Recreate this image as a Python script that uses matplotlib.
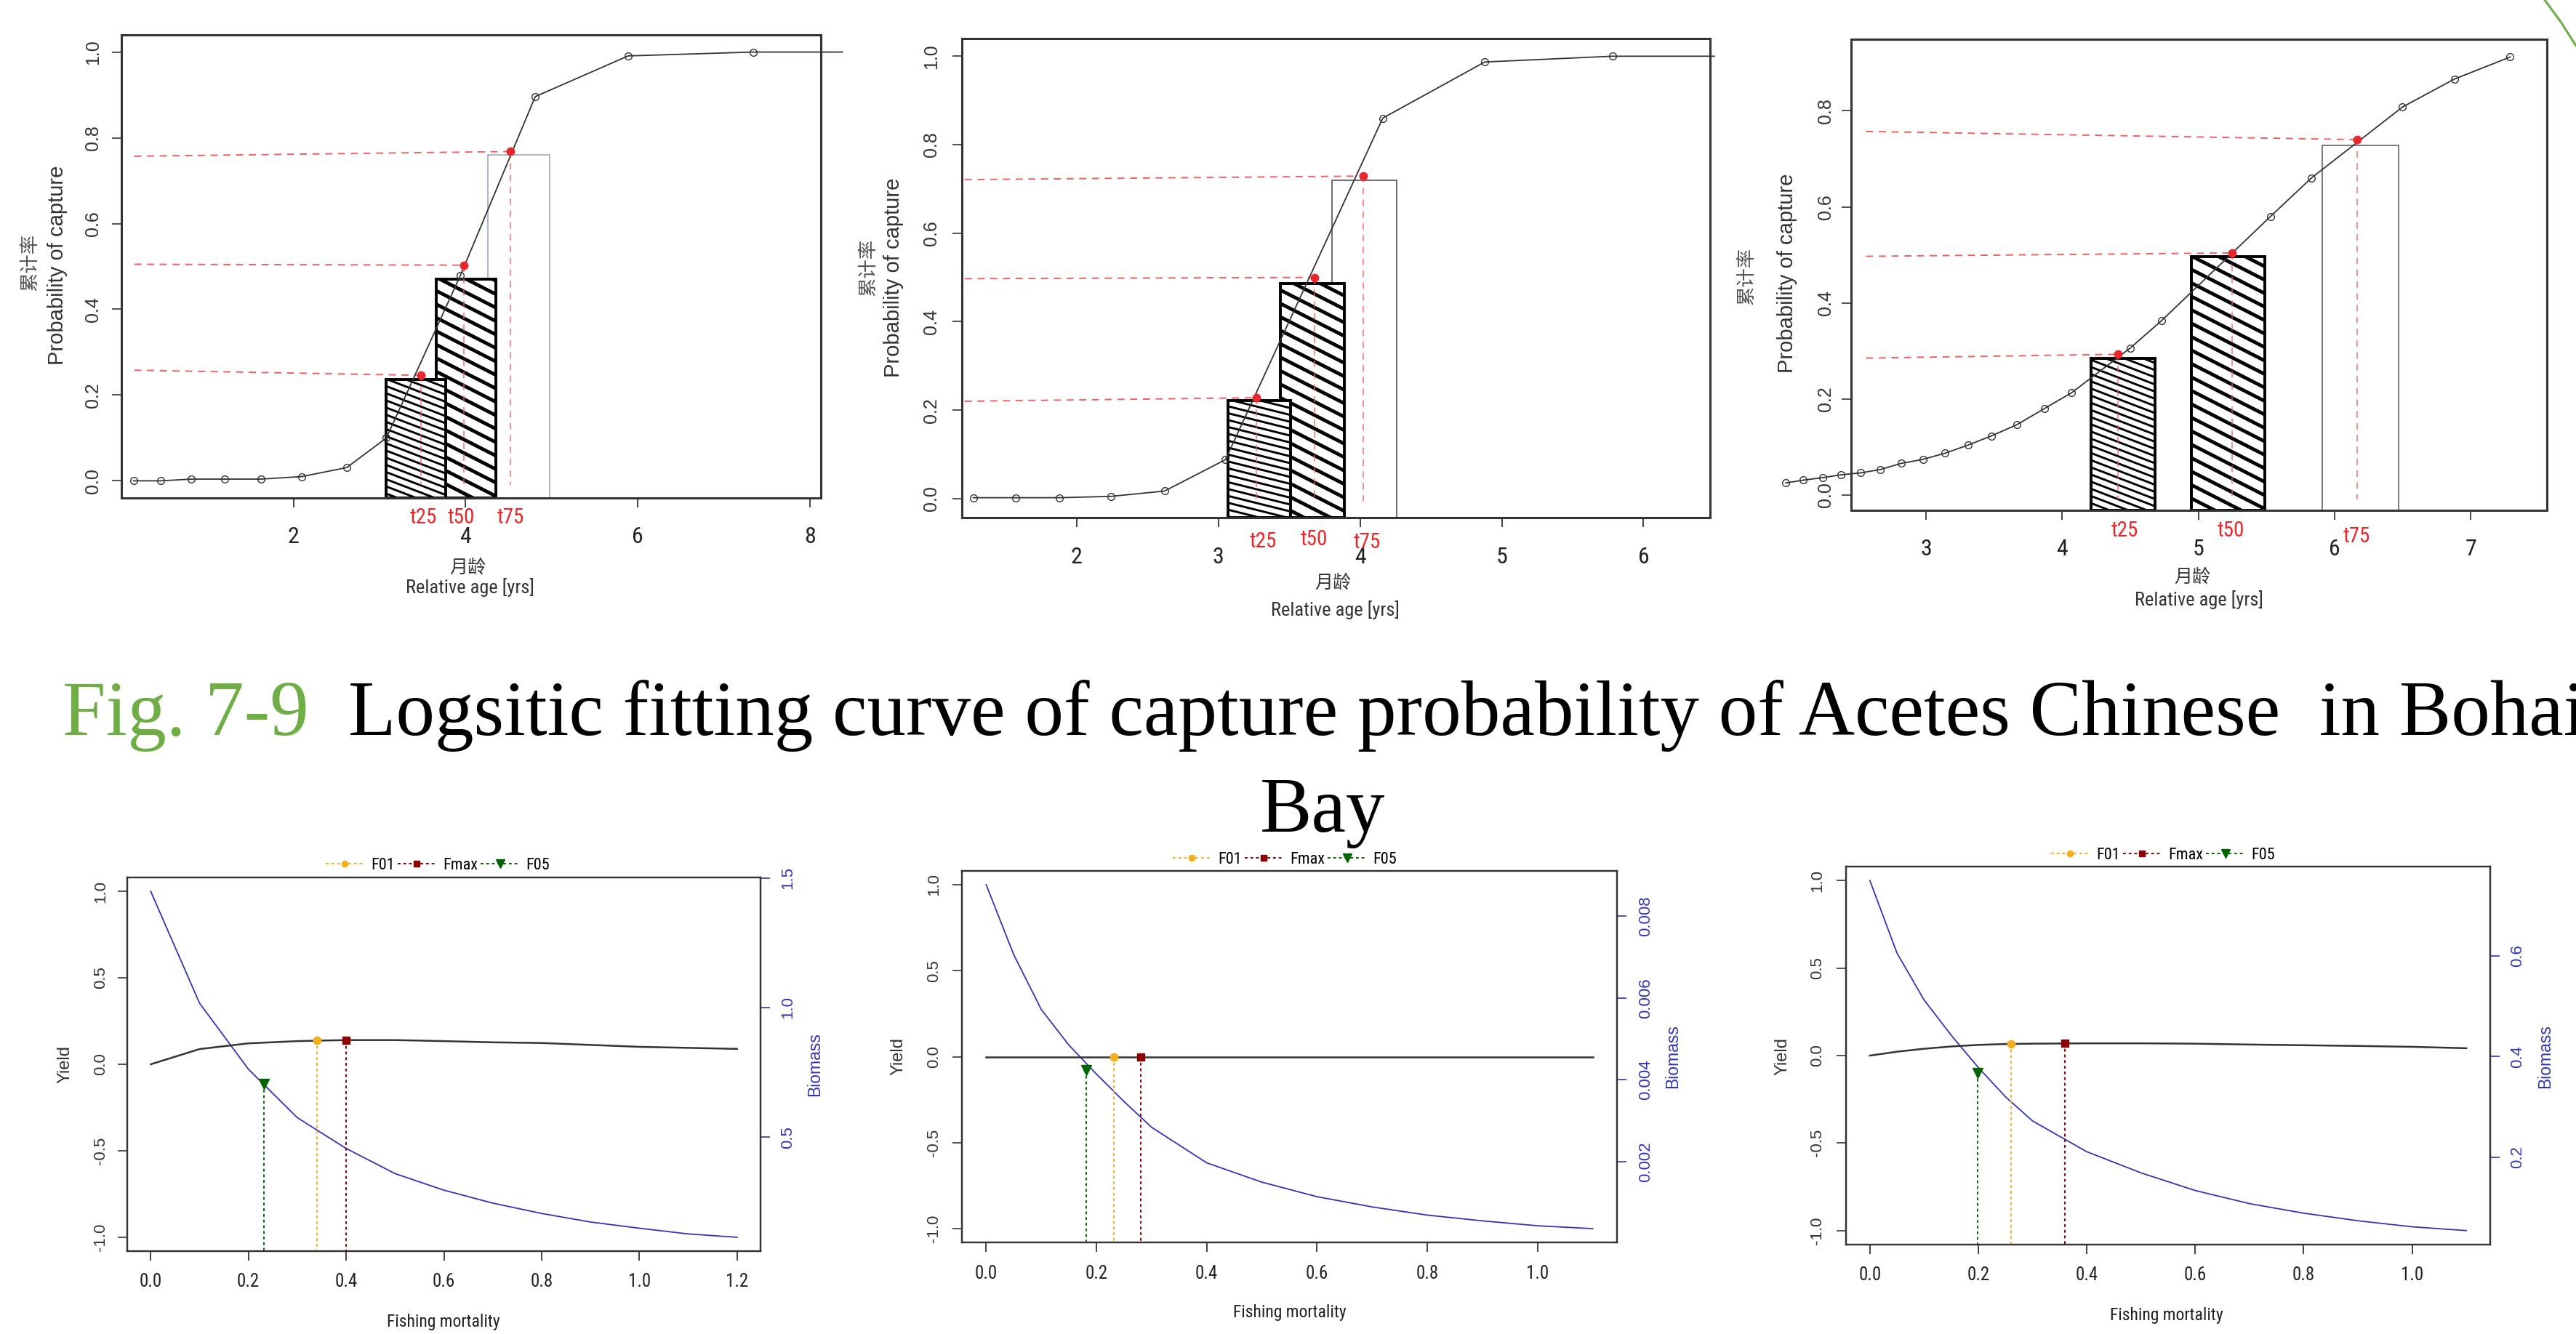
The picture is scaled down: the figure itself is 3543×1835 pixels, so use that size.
import numpy as np
import matplotlib
matplotlib.use("Agg")
import matplotlib.pyplot as plt
from matplotlib import font_manager as fm
from matplotlib.collections import LineCollection
from matplotlib.patches import Rectangle
from matplotlib.lines import Line2D
from matplotlib.transforms import IdentityTransform, Bbox

plt.rcParams['axes.unicode_minus'] = False

# ---------------- data: top row (cumulative capture probability) ----------------
age_a = [0.14, 0.46, 0.81, 1.20, 1.62, 2.10, 2.62, 3.08, 3.94, 4.81, 5.89, 7.34, 8.38]
prob_a = [0.0, 0.0, 0.004, 0.004, 0.004, 0.010, 0.031, 0.10, 0.479, 0.896, 0.991, 1.0, 1.0]
marked_a = 12                      # first 12 points carry open circles
red_t_a = [3.48, 3.98, 4.52]
red_p_a = [0.246, 0.503, 0.768]
ref_left_a = [0.258, 0.505, 0.757]
bar_l_a = [3.08, 3.66, 4.26]
bar_r_a = [3.77, 4.35, 4.98]
bar_h_a = [0.236, 0.470, 0.760]

age_b = [1.27, 1.57, 1.88, 2.24, 2.62, 3.05, 4.16, 4.88, 5.78, 6.50]
prob_b = [0.002, 0.002, 0.002, 0.005, 0.017, 0.088, 0.86, 0.987, 1.0, 1.0]
marked_b = 9
red_t_b = [3.27, 3.68, 4.02]
red_p_b = [0.228, 0.50, 0.729]
ref_left_b = [0.220, 0.497, 0.721]
bar_l_b = [3.07, 3.44, 3.80]
bar_r_b = [3.51, 3.89, 4.26]
bar_h_b = [0.221, 0.486, 0.720]

age_c = [1.97, 2.10, 2.24, 2.375, 2.52, 2.665, 2.82, 2.976, 3.14, 3.31, 3.48, 3.665,
         3.87, 4.07, 4.50, 4.73, 5.53, 5.83, 6.50, 6.88, 7.29]
prob_c = [0.025, 0.031, 0.036, 0.042, 0.046, 0.053, 0.066, 0.074, 0.087, 0.104, 0.123, 0.146,
          0.180, 0.213, 0.306, 0.363, 0.580, 0.660, 0.808, 0.866, 0.912]
marked_c = 21
red_t_c = [4.41, 5.246, 6.165]
red_p_c = [0.293, 0.504, 0.740]
ref_left_c = [0.285, 0.497, 0.757]
bar_l_c = [4.21, 4.95, 5.91]
bar_r_c = [4.68, 5.49, 6.47]
bar_h_c = [0.284, 0.497, 0.728]

t_labels = ["t25", "t50", "t75"]

# ---------------- data: bottom row (yield / biomass per recruit) ----------------
F_d = [0.0, 0.1, 0.2, 0.3, 0.4, 0.5, 0.6, 0.7, 0.8, 0.9, 1.0, 1.1, 1.2]
yield_d = [0.0, 0.088, 0.121, 0.134, 0.140, 0.140, 0.134, 0.127, 0.123, 0.112, 0.101, 0.095, 0.089]
bio_d = [1.449, 1.017, 0.762, 0.575, 0.456, 0.359, 0.295, 0.245, 0.205, 0.172, 0.148, 0.126, 0.113]
ref_f_d = [0.34, 0.40, 0.231]          # F01, Fmax, F05
ref_y_d = [0.140, 0.140, -0.112]

F_e = [0.0, 0.05, 0.1, 0.15, 0.2, 0.25, 0.3, 0.4, 0.5, 0.6, 0.7, 0.8, 0.9, 1.0, 1.1]
yield_e = [0.0, 0.0, 0.0, 0.0, 0.0, 0.0, 0.0, 0.0, 0.0, 0.0, 0.0, 0.0, 0.0, 0.0, 0.0]
bio_e = [0.008764, 0.007055, 0.005717, 0.00485, 0.004142, 0.003472, 0.002843, 0.001976,
         0.001504, 0.00115, 0.0009, 0.0007, 0.00056, 0.00044, 0.00037]
ref_f_e = [0.231, 0.28, 0.181]
ref_y_e = [0.0, 0.0, -0.077]

F_f = [0.0, 0.05, 0.1, 0.15, 0.2, 0.25, 0.3, 0.4, 0.5, 0.6, 0.7, 0.8, 0.9, 1.0, 1.1]
yield_f = [0.0, 0.022, 0.039, 0.052, 0.061, 0.066, 0.068, 0.070, 0.070, 0.068, 0.063, 0.059, 0.055, 0.050, 0.042]
bio_f = [0.749, 0.605, 0.512, 0.442, 0.378, 0.320, 0.272, 0.211, 0.169, 0.134, 0.108, 0.089, 0.074, 0.062, 0.0545]
ref_f_f = [0.26, 0.36, 0.199]
ref_y_f = [0.068, 0.070, -0.0996]

ref_names = ["F01", "Fmax", "F05"]

# ---------------- figure setup ----------------
W, H, DPI = 3543, 1835, 100
fig = plt.figure(figsize=(W / DPI, H / DPI), dpi=DPI)
fig.patch.set_facecolor('white')

avail = {f.name for f in fm.fontManager.ttflist}
def pick(*c):
    for n in c:
        if n in avail:
            return n
    return 'DejaVu Sans'
NARROW = pick('Liberation Sans Narrow', 'Arial Narrow', 'Roboto Condensed', 'Liberation Sans')
SANS = pick('Liberation Sans', 'Arial')
SERIF = pick('Liberation Serif', 'Times New Roman')
CJK = 'Noto Sans CJK SC'

BLUE = '#3434b4'
RED = '#e8262b'
REDL = '#ee6060'
GREENT = '#70AD47'
ORANGE = '#f2b01e'
DARKRED = '#8b0000'
DKGREEN = '#006400'
GRAY = '#333333'
ref_colors = [ORANGE, DARKRED, DKGREEN]
ref_markers = ['o', 's', 'v']


def add_ax(l, r, t, b):
    return fig.add_axes([l / W, 1 - b / H, (r - l) / W, (b - t) / H])


def ftext(x, y, s, ha='center', va='center', **kw):
    return fig.text(x / W, 1 - y / H, s, ha=ha, va=va, **kw)


def hatch(ax, patch, angle, spacing, lw, z):
    bb = patch.get_path().get_extents(patch.get_transform())
    clip = Bbox.intersection(bb, ax.bbox.frozen())
    a = np.deg2rad(angle)
    d = np.array([np.cos(a), -np.sin(a)])
    n = np.array([np.sin(a), np.cos(a)])
    corners = np.array([[bb.x0, bb.y0], [bb.x1, bb.y0], [bb.x0, bb.y1], [bb.x1, bb.y1]])
    proj = corners @ n
    along = corners @ d
    ks = np.arange(np.floor(proj.min() / spacing) - 1, np.ceil(proj.max() / spacing) + 2)
    t0, t1 = along.min() - 50, along.max() + 50
    segs = [[n * k * spacing + d * t0, n * k * spacing + d * t1] for k in ks]
    lc = LineCollection(segs, transform=IdentityTransform(), colors='black',
                        linewidths=lw, zorder=z)
    ax.add_collection(lc, autolim=False)
    lc.set_clip_path(None)
    lc.set_clip_box(clip)


def top_panel(box, xlim, ylim, xticks, yticks, age, prob, nmark, red_t, red_p, ref_left,
              ref_x0, bl, br, bh, bar3_ec, xpad, ypad, lab, ang1=21):
    ax = add_ax(*box)
    ax.set_xlim(xlim)
    ax.set_ylim(ylim)
    ybot = ylim[0]
    p3 = Rectangle((bl[2], ybot), br[2] - bl[2], bh[2] - ybot, fc='white', ec=bar3_ec, lw=1.1, zorder=2)
    ax.add_patch(p3)
    p2 = Rectangle((bl[1], ybot), br[1] - bl[1], bh[1] - ybot, fc='white', ec='black', lw=2.8, zorder=3)
    ax.add_patch(p2)
    hatch(ax, p2, 27, 16.5, 3.5, 3.05)
    p1 = Rectangle((bl[0], ybot), br[0] - bl[0], bh[0] - ybot, fc='white', ec='black', lw=2.8, zorder=4)
    ax.add_patch(p1)
    hatch(ax, p1, ang1, 9.2, 2.1, 4.05)
    for t, p, yl in zip(red_t, red_p, ref_left):
        ax.plot([ref_x0, t], [yl, p], color=REDL, lw=1.4, ls=(0, (5, 4)), zorder=5)
        ax.plot([t, t], [p, -0.01], color=REDL, lw=1.3, ls=(0, (5, 4)), alpha=0.75, zorder=5)
    ax.plot(age, prob, color=GRAY, lw=1.3, zorder=6, clip_on=False)
    ax.plot(age[:nmark], prob[:nmark], ls='none', marker='o', ms=7, mfc='none', mec=GRAY,
            mew=1.0, zorder=6, clip_on=False)
    ax.plot(red_t, red_p, ls='none', marker='o', ms=7.5, color=RED, zorder=7)
    for s in ax.spines.values():
        s.set_linewidth(2.2)
        s.set_color(GRAY)
        s.set_zorder(8)
    ax.set_xticks(xticks)
    ax.set_xticklabels([str(v) for v in xticks])
    ax.set_yticks(yticks)
    ax.set_yticklabels(['%.1f' % v for v in yticks])
    ax.tick_params(axis='x', direction='out', length=9.5, width=1.2, pad=xpad,
                   labelsize=23, colors='#222222')
    ax.tick_params(axis='y', direction='out', length=9.5, width=1.2, pad=ypad,
                   labelsize=18, labelrotation=90, colors='#333333')
    for t in ax.get_xticklabels():
        t.set_fontfamily(NARROW)
        t.set_va('center')
    for t in ax.get_yticklabels():
        t.set_fontfamily(SANS)
        t.set_ha('center')
        t.set_va('center')
    ftext(*lab['ylab'], 'Probability of capture', rotation=90, fontsize=21, family=SANS, color='#333333')
    ftext(*lab['cjk'], '累计率', rotation=90, fontsize=19, family=[CJK, 'DejaVu Sans'], color='#555555')
    ftext(*lab['xcjk'], '月龄', fontsize=18, family=[CJK, 'DejaVu Sans'], color='#333333')
    ftext(*lab['xlab'], 'Relative age [yrs]', fontsize=19, family=NARROW, color='#333333')
    for (x, y), s in zip(lab['t'], t_labels):
        ftext(x, y, s, fontsize=21, family=NARROW, color=RED)
    return ax


top_panel((167, 1129, 48, 685), (0.0, 8.13), (-0.04, 1.04), [2, 4, 6, 8],
          [0, 0.2, 0.4, 0.6, 0.8, 1.0], age_a, prob_a, marked_a, red_t_a, red_p_a, ref_left_a,
          0.15, bar_l_a, bar_r_a, bar_h_a, '#9aa2b4', 28.8, 18.7,
          dict(ylab=(79, 365), cjk=(41, 360), xcjk=(643, 781), xlab=(647, 808),
               t=[(582, 712), (634, 712), (702, 712)]), ang1=21)

top_panel((1323, 2352, 53, 712), (1.19, 6.47), (-0.043, 1.04), [2, 3, 4, 5, 6],
          [0, 0.2, 0.4, 0.6, 0.8, 1.0], age_b, prob_b, marked_b, red_t_b, red_p_b, ref_left_b,
          1.21, bar_l_b, bar_r_b, bar_h_b, '#444444', 29.8, 20.4,
          dict(ylab=(1229, 382), cjk=(1194, 367), xcjk=(1833, 802), xlab=(1836, 839),
               t=[(1737, 745), (1807, 742), (1880, 746)]), ang1=14)

top_panel((2546, 3503, 54, 702), (2.45, 7.56), (-0.032, 0.949), [3, 4, 5, 6, 7],
          [0, 0.2, 0.4, 0.6, 0.8], age_c, prob_c, marked_c, red_t_c, red_p_c, ref_left_c,
          2.56, bar_l_c, bar_r_c, bar_h_c, '#555555', 29.2, 15.8,
          dict(ylab=(2458, 376), cjk=(2402, 379), xcjk=(3015, 794), xlab=(3024, 825),
               t=[(2922, 730), (3068, 730), (3241, 738)]), ang1=21)


def bottom_panel(box, xlim, xticks, F, yld, bio, rf, ry, rticks, rfmt, pads, lab):
    ax = add_ax(*box)
    ax2 = ax.twinx()
    ax.set_zorder(ax2.get_zorder() + 1)
    ax.patch.set_visible(False)
    ax.set_xlim(xlim)
    ax.set_ylim(-1.08, 1.08)
    r = max(bio) - min(bio)
    ax2.set_ylim(min(bio) - 0.04 * r, max(bio) + 0.04 * r)
    ax2.plot(F, bio, color=BLUE, lw=1.3)
    ax.plot(F, yld, color=GRAY, lw=1.8, zorder=3)
    for f, y, c, m in zip(rf, ry, ref_colors, ref_markers):
        ax.plot([f, f], [y, -1.08], color=c, lw=1.4, ls=(0, (2, 2)), zorder=2)
        ax.plot([f], [y], ls='none', marker=m, ms=(10 if m == 'v' else 7.5), color=c, zorder=4)
    for a in (ax, ax2):
        for s in a.spines.values():
            s.set_linewidth(1.6)
            s.set_color(GRAY)
    ax.set_xticks(xticks)
    ax.set_xticklabels(['%.1f' % v for v in xticks])
    ax.set_yticks([-1.0, -0.5, 0.0, 0.5, 1.0])
    ax.set_yticklabels(['-1.0', '-0.5', '0.0', '0.5', '1.0'])
    ax.tick_params(axis='x', direction='out', length=9.5, width=1.2, pad=pads[0],
                   labelsize=18, colors='#222222')
    ax.tick_params(axis='y', direction='out', length=9.5, width=1.2, pad=pads[1],
                   labelsize=16, labelrotation=90, colors='#333333')
    ax2.set_yticks(rticks)
    ax2.set_yticklabels([rfmt % v for v in rticks])
    ax2.tick_params(axis='y', direction='out', length=9.5, width=1.2, pad=pads[2],
                    labelsize=16, labelrotation=90, colors=BLUE)
    for t in ax.get_xticklabels():
        t.set_fontfamily(NARROW)
        t.set_va('center')
    for t in ax.get_yticklabels() + ax2.get_yticklabels():
        t.set_fontfamily(SANS)
        t.set_ha('center')
        t.set_va('center')
    ftext(*lab['yl'], 'Yield', rotation=90, fontsize=17, family=SANS, color='#333333')
    ftext(*lab['bio'], 'Biomass', rotation=90, fontsize=16.5, family=SANS, color=BLUE)
    ftext(*lab['xlab'], 'Fishing mortality', fontsize=17, family=NARROW, color='#222222')
    handles = []
    for c, m in zip(ref_colors, ref_markers):
        h = Line2D([0, 0.5, 1], [0, 0, 0], color=c, ls=(0, (2, 2)), lw=1.4, marker=m,
                   ms=(8 if m == 'v' else 6), markevery=[1])
        handles.append(h)
    lx, ly = lab['leg']
    ax.legend(handles, ref_names, ncol=3, loc='center', frameon=False,
              bbox_to_anchor=(lx / W, 1 - ly / H), bbox_transform=fig.transFigure,
              prop=dict(family=NARROW, size=16), handlelength=2.4, handletextpad=0.4,
              columnspacing=0.2, borderpad=0)
    return ax


bottom_panel((175, 1046, 1207, 1721), (-0.048, 1.248), [0, 0.2, 0.4, 0.6, 0.8, 1.0, 1.2],
             F_d, yield_d, bio_d, ref_f_d, ref_y_d, [0.5, 1.0, 1.5], '%.1f', (20.9, 16.8, 17.6),
             dict(yl=(90, 1464), bio=(1121, 1464), xlab=(610, 1818), leg=(602, 1190)))

bottom_panel((1323, 2224, 1198, 1709), (-0.044, 1.144), [0, 0.2, 0.4, 0.6, 0.8, 1.0],
             F_e, yield_e, bio_e, ref_f_e, ref_y_e, [0.002, 0.004, 0.006, 0.008], '%.3f',
             (21.6, 18.0, 18.8),
             dict(yl=(1236, 1453), bio=(2301, 1453), xlab=(1774, 1805), leg=(1767, 1182)))

bottom_panel((2539, 3425, 1192, 1712), (-0.044, 1.144), [0, 0.2, 0.4, 0.6, 0.8, 1.0],
             F_f, yield_f, bio_f, ref_f_f, ref_y_f, [0.2, 0.4, 0.6], '%.1f', (21.0, 18.8, 17.8),
             dict(yl=(2451, 1453), bio=(3501, 1453), xlab=(2980, 1809), leg=(2975, 1176)))

ftext(86, 1011, 'Fig. 7-9', ha='left', va='baseline', fontsize=77, family=SERIF, color=GREENT)
ftext(479, 1011, 'Logsitic fitting curve of capture probability of Acetes Chinese  in Bohai',
      ha='left', va='baseline', fontsize=77, family=SERIF, color='black')
ftext(1819, 1144, 'Bay', ha='center', va='baseline', fontsize=77, family=SERIF, color='black')

fig.add_artist(Line2D([3500 / W, 3522 / W, 3543 / W], [1, 1 - 30 / H, 1 - 63 / H],
                      transform=fig.transFigure, color=GREENT, lw=2.2))

fig.savefig('out.png', dpi=DPI, facecolor='white')
